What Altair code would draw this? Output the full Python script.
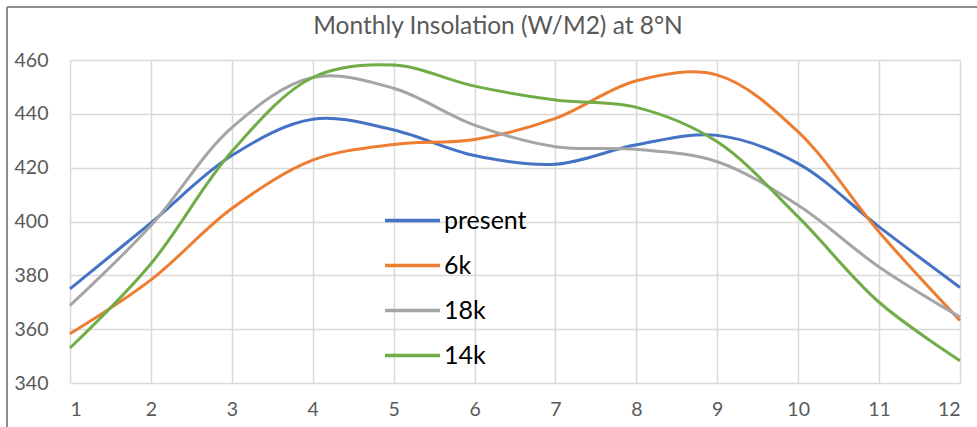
import altair as alt
import pandas as pd

months = list(range(1, 13))
series_names = ["present", "6k", "18k", "14k"]
present = [375, 399.5, 424.5, 438, 434, 424.5, 421.3, 428.5, 432, 421.5, 398, 375.5]
k6 = [358.3, 378.3, 404.8, 422.8, 428.6, 430.5, 438.3, 452.3, 454.4, 433.3, 396.1, 363.2]
k18 = [368.8, 398.5, 434.9, 453.5, 449.5, 435.8, 427.8, 426.8, 422.2, 406, 383.1, 364.5]
k14 = [353, 384.3, 426, 453.5, 458.1, 450.3, 445.1, 442.4, 429.6, 401.7, 370, 348.3]
colors = ["#4472C4", "#ED7D31", "#A5A5A5", "#70AD47"]

rows = []
for name, vals in zip(series_names, [present, k6, k18, k14]):
    for m, v in zip(months, vals):
        rows.append({"month": m, "value": v, "series": name})
df = pd.DataFrame(rows)

FONT = "Lato"

lines = alt.Chart(df).mark_line(interpolate="catmull-rom", strokeWidth=3).encode(
    x=alt.X("month:Q", scale=alt.Scale(domain=[1, 12], nice=False),
            axis=alt.Axis(values=months, tickCount=12, title=None, format="d",
                          labelFontSize=19.5, labelColor="#595959", labelPadding=17,
                          ticks=False, domain=False, gridColor="#d9d9d9", gridWidth=1.5)),
    y=alt.Y("value:Q", scale=alt.Scale(domain=[340, 460], nice=False, zero=False),
            axis=alt.Axis(values=[340, 360, 380, 400, 420, 440, 460], title=None,
                          labelFontSize=19.5, labelColor="#595959", labelPadding=22,
                          ticks=False, domain=False, gridColor="#d9d9d9", gridWidth=1.5)),
    color=alt.Color("series:N", sort=series_names,
                    scale=alt.Scale(domain=series_names, range=colors),
                    legend=alt.Legend(title=None, orient="none", legendX=313, legendY=131,
                                      symbolType="stroke", symbolSize=3025, symbolStrokeWidth=3.5,
                                      labelFontSize=25, labelColor="#000000", labelOffset=2,
                                      rowPadding=2, labelFont=FONT)),
    order=alt.Order("month:Q"),
)

frame_top = alt.Chart(df).mark_rule(color="#8c8c8c", strokeWidth=1, clip=False).encode(
    x=alt.value(-63), x2=alt.value(920), y=alt.value(-53)
)
frame_left = alt.Chart(df).mark_rule(color="#8c8c8c", strokeWidth=1, clip=False).encode(
    x=alt.value(-63), y=alt.value(-53), y2=alt.value(380)
)

chart = alt.layer(lines, frame_top, frame_left).properties(
    width=890, height=323,
    title=alt.Title("Monthly Insolation (W/M2) at 8°N", fontSize=24.5, color="#595959",
                    font=FONT, fontWeight="normal", offset=-33, dx=-17),
    autosize=alt.AutoSizeParams(type="none"),
    padding={"left": 70, "top": 60, "right": 17, "bottom": 44},
).configure(font=FONT).configure_view(stroke=None).configure_axis(labelFont=FONT)

chart.save("out.html", embed_options={"renderer": "svg", "actions": False})
